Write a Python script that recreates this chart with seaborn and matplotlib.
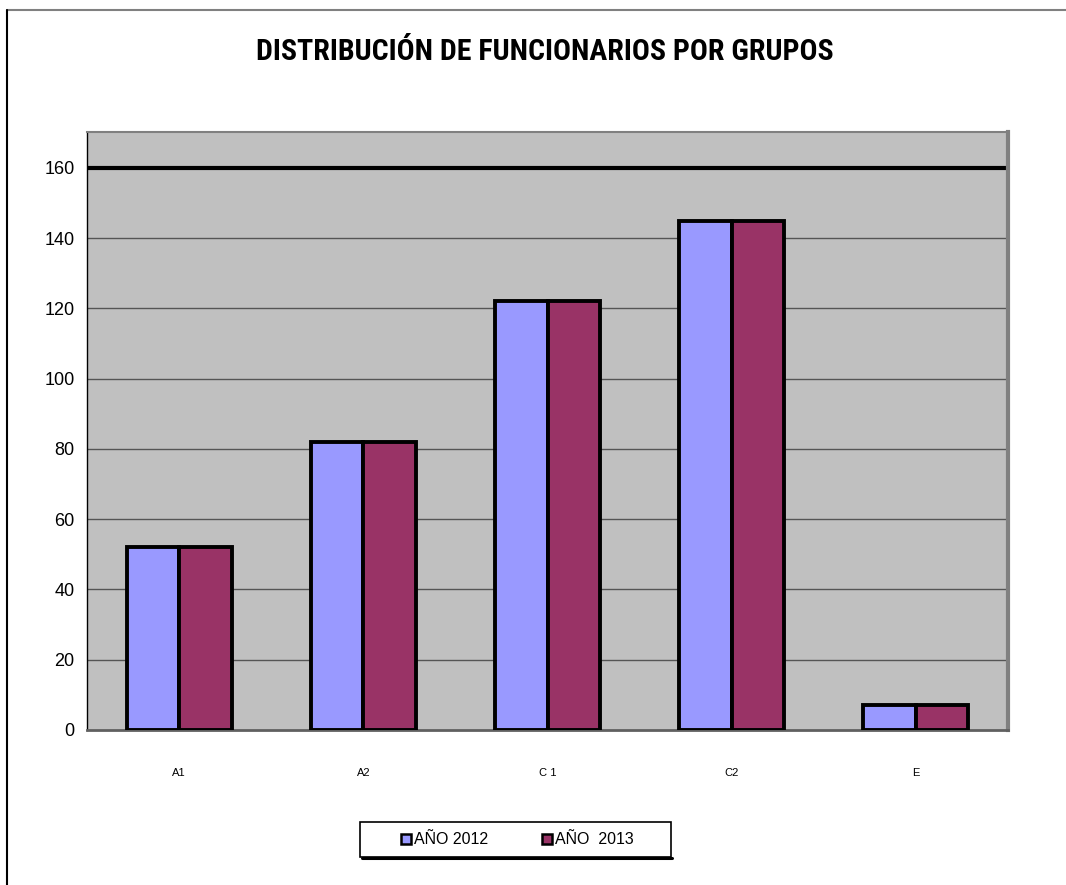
import numpy as np
import pandas as pd
import matplotlib
matplotlib.use("Agg")
import matplotlib.pyplot as plt
from matplotlib.lines import Line2D
from matplotlib.patches import Rectangle
from matplotlib import font_manager
import seaborn as sns

# Chart data
grupos = ["A1", "A2", "C 1", "C2", "E"]
anio_2012 = [52, 82, 122, 145, 7]
anio_2013 = [52, 82, 122, 145, 7]
series = ["AÑO 2012", "AÑO  2013"]
colores = ["#9999FF", "#993366"]
y_ticks = [0, 20, 40, 60, 80, 100, 120, 140, 160]

df = pd.DataFrame({
    "grupo": grupos * 2,
    "valor": anio_2012 + anio_2013,
    "serie": [series[0]] * len(grupos) + [series[1]] * len(grupos),
})

sns.set_style("white")
plt.rcParams["font.family"] = ["Liberation Sans", "DejaVu Sans"]
plt.rcParams["text.color"] = "black"
plt.rcParams["xtick.color"] = "black"
plt.rcParams["ytick.color"] = "black"

# narrow font for the title if available
nombres = {f.name for f in font_manager.fontManager.ttflist}
if "Liberation Sans Narrow" in nombres:
    titulo_font = ["Liberation Sans Narrow"]
    titulo_size = 20
else:
    titulo_font = ["Roboto Condensed", "Liberation Sans"]
    titulo_size = 21.5

fig = plt.figure(figsize=(10.66, 8.85), dpi=100)
ax = fig.add_axes([87 / 1066, 1 - 730 / 885, (1008 - 87) / 1066, (730 - 132) / 885])
ax.set_facecolor("#C0C0C0")

sns.barplot(data=df, x="grupo", y="valor", hue="serie", palette=colores,
            width=0.57, gap=0, edgecolor="black", linewidth=2.8,
            saturation=1, legend=False, ax=ax, zorder=3)

ax.set_ylim(0, 170.2)
ax.set_xlim(-0.5, len(grupos) - 0.5)
ax.set_yticks(y_ticks)
ax.tick_params(axis="y", labelsize=13, length=5, width=1, color="#404040", pad=4)
ax.tick_params(axis="x", labelsize=8, length=0, pad=27)
ax.set_xticks(np.arange(-0.5, len(grupos), 1), minor=True)
ax.tick_params(axis="x", which="minor", length=4, color="#404040", direction="in")
ax.set_xlabel("")
ax.set_ylabel("")

# gridlines
for t in y_ticks[1:-1]:
    ax.axhline(t, color="#555555", linewidth=1, zorder=1)
ax.axhline(160, color="black", linewidth=3, zorder=1)

for side in ["top", "right"]:
    ax.spines[side].set_color("#808080")
ax.spines["top"].set_linewidth(1.5)
ax.spines["right"].set_linewidth(3)
ax.spines["left"].set_color("black")
ax.spines["left"].set_linewidth(1)
ax.spines["bottom"].set_color("#606060")
ax.spines["bottom"].set_linewidth(2)

fig.text(545 / 1066, 1 - 52 / 885, "DISTRIBUCIÓN DE FUNCIONARIOS POR GRUPOS",
         family=titulo_font, fontsize=titulo_size, fontweight="bold",
         ha="center", va="center", color="black")

# legend (frame drawn separately)
handles = [Line2D([], [], marker="s", linestyle="", markersize=7,
                  markerfacecolor=c, markeredgecolor="black", markeredgewidth=1.8)
           for c in colores]
fig.legend(handles, series, loc="center", bbox_to_anchor=(516 / 1066, 1 - 840 / 885),
           ncol=2, fontsize=11.5, frameon=False,
           handletextpad=0.0, columnspacing=3.2, handlelength=1.0)
fig.add_artist(Rectangle((360 / 1066, 1 - 857 / 885), 311 / 1066, 35 / 885,
                         fill=False, edgecolor="black", linewidth=1.2,
                         transform=fig.transFigure))
fig.add_artist(Line2D([362 / 1066, 672 / 1066], [1 - 857.5 / 885, 1 - 857.5 / 885],
                      color="black", linewidth=2.2, transform=fig.transFigure))

# outer chart border (top and left)
fig.add_artist(Line2D([7 / 1066, 1], [1 - 10 / 885, 1 - 10 / 885], color="#808080",
                      linewidth=1.5, transform=fig.transFigure))
fig.add_artist(Line2D([7 / 1066, 7 / 1066], [0, 1 - 10 / 885], color="black",
                      linewidth=1.5, transform=fig.transFigure))

fig.savefig("out.png", dpi=100)
